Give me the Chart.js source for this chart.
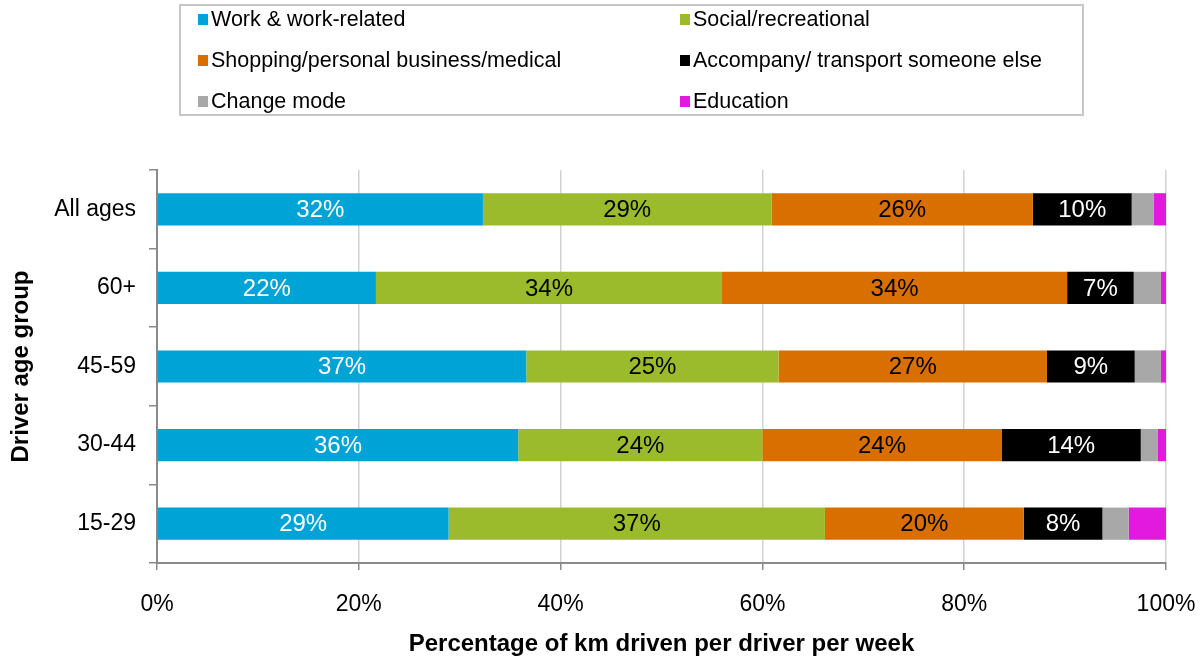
<!DOCTYPE html>
<html>
<head>
  <title>Km driven by trip purpose and driver age</title>
  <script src="https://cdn.jsdelivr.net/npm/chart.js@4.4.1/dist/chart.umd.min.js"></script>
  <style>
    body { margin: 0; background: #fff; font-family: "Liberation Sans", Arial, sans-serif; }
    #wrap { position: relative; width: 1203px; height: 662px; }
    #legend {
      position: absolute; left: 179px; top: 4px; width: 905px; height: 112px;
      border: 2px solid #c6c6c6; box-sizing: border-box;
      display: grid; grid-template-columns: 482px 1fr; grid-auto-rows: 41px;
      padding: 0 0 0 17px; align-content: center;
    }
    .item { display: flex; align-items: center; font-size: 21.5px; color: #000; }
    .item span.box { width: 10px; height: 11px; margin-right: 3px; display: inline-block; }
  </style>
</head>
<body>
<div id="wrap">
  <canvas id="myChart" width="1203" height="662"></canvas>
  <div id="legend"></div>
</div>
<script>
// age groups, top to bottom
const ageGroups = ['All ages', '60+', '45-59', '30-44', '15-29'];

// share of km driven per week (%), one array per trip purpose
const work       = [32.3, 21.7, 36.6, 35.8, 28.9];
const social     = [28.6, 34.3, 25.0, 24.2, 37.3];
const shopping   = [25.9, 34.2, 26.6, 23.7, 19.7];
const accompany  = [9.8, 6.6, 8.7, 13.8, 7.8];
const changeMode = [2.2, 2.7, 2.6, 1.7, 2.6];
const education  = [1.2, 0.5, 0.5, 0.8, 3.7];

const xTicks = [0, 20, 40, 60, 80, 100];

const series = [
  { name: 'Work & work-related', data: work, color: '#00a3d6', text: '#fff' },
  { name: 'Social/recreational', data: social, color: '#9bbb2c', text: '#000' },
  { name: 'Shopping/personal business/medical', data: shopping, color: '#d86f00', text: '#000' },
  { name: 'Accompany/ transport someone else', data: accompany, color: '#000000', text: '#fff' },
  { name: 'Change mode', data: changeMode, color: '#a8a8a8', text: null },
  { name: 'Education', data: education, color: '#e21ade', text: null }
];

// legend: two columns, filled row by row
const legendEl = document.getElementById('legend');
series.forEach(s => {
  const d = document.createElement('div');
  d.className = 'item';
  d.innerHTML = '<span class="box" style="background:' + s.color + '"></span>' + s.name;
  legendEl.appendChild(d);
});

const FONT = '"Liberation Sans", Arial, sans-serif';

// percentage labels in the middle of each larger segment
const barLabels = {
  id: 'barLabels',
  afterDatasetsDraw(chart) {
    const ctx = chart.ctx;
    ctx.save();
    ctx.font = '24px ' + FONT;
    ctx.textAlign = 'center';
    ctx.textBaseline = 'middle';
    chart.data.datasets.forEach((ds, i) => {
      if (!ds.labelColor) return;
      chart.getDatasetMeta(i).data.forEach((bar, j) => {
        const v = ds.data[j];
        if (v < 5) return;
        ctx.fillStyle = ds.labelColor;
        ctx.fillText(Math.round(v) + '%', (bar.x + bar.base) / 2, bar.y + 1);
      });
    });
    ctx.restore();
  }
};

const ctx = document.getElementById('myChart').getContext('2d');
const myChart = new Chart(ctx, {
  type: 'bar',
  data: {
    labels: ageGroups,
    datasets: series.map(s => ({
      label: s.name,
      data: s.data,
      backgroundColor: s.color,
      labelColor: s.text,
      barPercentage: 0.41,
      categoryPercentage: 1.0,
      borderWidth: 0
    }))
  },
  options: {
    indexAxis: 'y',
    responsive: false,
    animation: false,
    devicePixelRatio: 1,
    layout: { padding: { top: 170, right: 37, left: 0, bottom: 0 } },
    plugins: { legend: { display: false }, tooltip: { enabled: false } },
    scales: {
      x: {
        stacked: true,
        min: 0,
        max: 100,
        afterBuildTicks: scale => { scale.ticks = xTicks.map(v => ({ value: v })); },
        afterFit: scale => {
          scale.height = 99;
          scale.paddingLeft = 0;
          scale.paddingRight = 0;
        },
        ticks: { color: '#000', font: { size: 23, family: FONT }, padding: 21, maxRotation: 0,
                 callback: v => v + '%' },
        grid: { drawOnChartArea: true, drawTicks: true, tickLength: 7,
                color: '#d2d2d2', tickColor: '#8a8a8a', lineWidth: 1.5 },
        border: { color: '#8a8a8a', width: 2 },
        title: { display: true, text: 'Percentage of km driven per driver per week', color: '#000',
                 font: { size: 24, weight: 'bold', family: FONT }, padding: { top: 0, bottom: 3 } }
      },
      y: {
        stacked: true,
        afterFit: scale => { scale.width = 157; },
        ticks: { color: '#000', font: { size: 23, family: FONT }, padding: 13 },
        grid: { offset: true, drawOnChartArea: false, drawTicks: true, tickLength: 8, color: '#8a8a8a', lineWidth: 1.5 },
        border: { color: '#8a8a8a', width: 2 },
        title: { display: true, text: 'Driver age group', color: '#000',
                 font: { size: 24, weight: 'bold', family: FONT }, padding: { top: 7, bottom: 0 } }
      }
    }
  },
  plugins: [barLabels]
});
</script>
</body>
</html>
